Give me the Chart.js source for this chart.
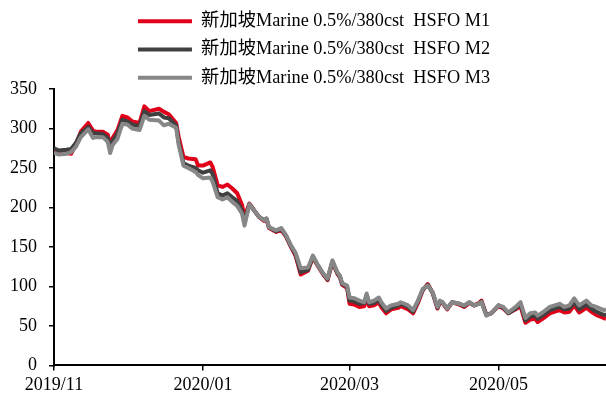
<!DOCTYPE html>
<html>
<head>
<meta charset="utf-8">
<script src="https://cdn.jsdelivr.net/npm/chart.js@4"></script>
<style>
  html, body { margin: 0; padding: 0; background: #fff; }
  canvas { display: block; }
</style>
</head>
<body>
<canvas id="c" width="606" height="397"></canvas>
<script>
const seriesNames = [
  '新加坡Marine 0.5%/380cst  HSFO M1',
  '新加坡Marine 0.5%/380cst  HSFO M2',
  '新加坡Marine 0.5%/380cst  HSFO M3'
];
const dates = [
  '2019-11-01','2019-11-03','2019-11-06','2019-11-08','2019-11-10','2019-11-12','2019-11-15','2019-11-17','2019-11-18','2019-11-21',
  '2019-11-23','2019-11-24','2019-11-25','2019-11-27','2019-11-29','2019-12-01','2019-12-03','2019-12-06','2019-12-08','2019-12-10',
  '2019-12-14','2019-12-16','2019-12-18','2019-12-21','2019-12-22','2019-12-24','2019-12-26','2019-12-29','2019-12-30','2020-01-01',
  '2020-01-04','2020-01-05','2020-01-07','2020-01-09','2020-01-11','2020-01-13','2020-01-15','2020-01-17','2020-01-18','2020-01-20',
  '2020-01-22','2020-01-24','2020-01-26','2020-01-27','2020-01-28','2020-01-31','2020-02-02','2020-02-04','2020-02-06','2020-02-08',
  '2020-02-10','2020-02-13','2020-02-15','2020-02-17','2020-02-19','2020-02-21','2020-02-23','2020-02-25','2020-02-26','2020-02-27',
  '2020-02-29','2020-03-01','2020-03-03','2020-03-05','2020-03-07','2020-03-08','2020-03-09','2020-03-11','2020-03-13','2020-03-14',
  '2020-03-16','2020-03-18','2020-03-21','2020-03-22','2020-03-25','2020-03-27','2020-03-29','2020-03-31','2020-04-02','2020-04-04',
  '2020-04-06','2020-04-07','2020-04-08','2020-04-10','2020-04-12','2020-04-15','2020-04-17','2020-04-19','2020-04-21','2020-04-23',
  '2020-04-24','2020-04-26','2020-04-28','2020-05-01','2020-05-03','2020-05-05','2020-05-08','2020-05-10','2020-05-12','2020-05-14',
  '2020-05-16','2020-05-17','2020-05-19','2020-05-22','2020-05-24','2020-05-26','2020-05-28','2020-05-30','2020-06-01','2020-06-03',
  '2020-06-06','2020-06-08','2020-06-10','2020-06-13','2020-06-14'
];
const m1 = [
  271,268,269,268,280,296,307,297,296,296,
  292,278,288,298,316,314,309,307,328,322,
  325,321,318,307,290,264,262,261,253,253,
  257,251,228,226,229,224,218,203,188,205,
  196,188,183,185,174,169,172,163,150,138,
  115,120,137,126,116,108,131,116,112,102,
  98,78,77,74,75,86,75,76,80,74,
  66,71,73,75,71,66,79,95,103,92,
  72,80,79,71,80,77,74,79,76,79,
  82,64,66,75,72,66,71,75,54,58,
  59,55,59,66,68,70,67,68,76,67,
  73,68,64,60,59
];
const m2 = [
  275,272,273,274,282,294,302,294,294,293,
  288,273,284,294,311,309,305,303,322,317,
  319,314,313,304,283,256,253,250,247,244,
  247,242,218,215,218,213,208,196,182,204,
  196,188,184,186,175,170,173,164,151,140,
  118,121,138,127,117,109,132,117,113,103,
  100,82,81,78,79,89,78,79,83,77,
  69,73,76,78,74,68,81,96,102,92,
  73,81,80,72,80,78,75,80,76,78,
  81,64,66,76,73,66,72,78,57,62,
  63,59,63,70,72,74,71,72,80,71,
  77,72,68,64,64
];
const m3 = [
  269,267,268,270,277,289,299,288,289,289,
  283,269,279,287,306,305,300,298,316,311,
  310,304,306,301,280,253,250,245,241,237,
  238,232,213,210,213,207,202,192,177,204,
  196,188,184,186,175,171,174,165,152,142,
  123,124,139,127,117,110,133,118,114,104,
  101,86,85,82,80,91,80,82,86,80,
  72,76,78,80,76,70,82,97,101,93,
  74,82,80,72,80,78,76,80,76,78,
  80,63,66,76,74,67,74,80,60,66,
  67,63,67,74,76,78,74,76,85,76,
  82,76,74,70,71
];
const seriesColors = ['#E1001A', '#404040', '#878787'];
const tickDates = ['2019-11-01', '2020-01-01', '2020-03-01', '2020-05-01'];
const tickLabels = ['2019/11', '2020/01', '2020/03', '2020/05'];
const yTicks = [0, 50, 100, 150, 200, 250, 300, 350];

const origin = Date.parse(dates[0] + 'T00:00:00Z');
const dayOf = d => (Date.parse(d + 'T00:00:00Z') - origin) / 86400000;
const xs = dates.map(dayOf);
const tickDays = tickDates.map(dayOf);
const toPts = arr => arr.map((v, i) => ({x: xs[i], y: v}));

const FONT = "'Liberation Serif', 'Times New Roman', 'Noto Sans CJK SC', serif";

const legendTweak = {
  id: 'legendTweak',
  afterInit(chart) {
    const lg = chart.legend;
    if (!lg) return;
    const of = lg.fit;
    lg.fit = function () {
      of.apply(this, arguments);
      this.height = 89;
    };
    const od = lg.draw;
    lg.draw = function () {
      const ctx = this.ctx;
      ctx.save();
      ctx.translate(12, 2);
      od.apply(this, arguments);
      ctx.restore();
    };
  }
};

new Chart(document.getElementById('c'), {
  type: 'line',
  data: {
    datasets: [m1, m2, m3].map((arr, i) => ({
      label: seriesNames[i],
      data: toPts(arr),
      borderColor: seriesColors[i],
      backgroundColor: seriesColors[i],
      borderWidth: 4,
      pointRadius: 0,
      tension: 0,
      borderJoinStyle: 'round',
      order: 2 - i,
      fill: false
    }))
  },
  options: {
    responsive: false,
    animation: false,
    events: [],
    layout: { padding: { left: -2, right: 0, top: 0, bottom: -3 } },
    plugins: {
      tooltip: { enabled: false },
      legend: {
        display: true,
        position: 'top',
        align: 'center',
        labels: {
          color: '#000',
          font: { family: FONT, size: 18.3 },
          boxWidth: 54,
          boxHeight: 4,
          padding: 10,
          sort: (a, b) => a.datasetIndex - b.datasetIndex,
          generateLabels(chart) {
            const items = Chart.defaults.plugins.legend.labels.generateLabels(chart);
            items.forEach(it => { it.lineWidth = 0; it.fillStyle = seriesColors[it.datasetIndex]; });
            return items;
          }
        }
      }
    },
    scales: {
      x: {
        type: 'linear',
        min: xs[0],
        max: xs[xs.length - 1],
        afterBuildTicks(axis) { axis.ticks = tickDays.map(v => ({ value: v })); },
        ticks: {
          autoSkip: false,
          maxRotation: 0,
          color: '#000',
          padding: 4,
          font: { family: FONT, size: 18 },
          callback(value) {
            const k = tickDays.indexOf(value);
            return k >= 0 ? tickLabels[k] : '';
          }
        },
        grid: { display: true, drawOnChartArea: false, drawTicks: true, tickLength: 5, color: '#000', lineWidth: 1.5 },
        border: { display: true, color: '#000', width: 2 }
      },
      y: {
        min: 0,
        max: 350,
        afterBuildTicks(axis) { axis.ticks = yTicks.map(v => ({ value: v })); },
        ticks: {
          color: '#000',
          padding: 12,
          font: { family: FONT, size: 18 }
        },
        grid: { display: true, drawOnChartArea: false, drawTicks: true, tickLength: 5, color: '#000', lineWidth: 1.5 },
        border: { display: true, color: '#000', width: 2 }
      }
    }
  },
  plugins: [legendTweak]
});
</script>
</body>
</html>
